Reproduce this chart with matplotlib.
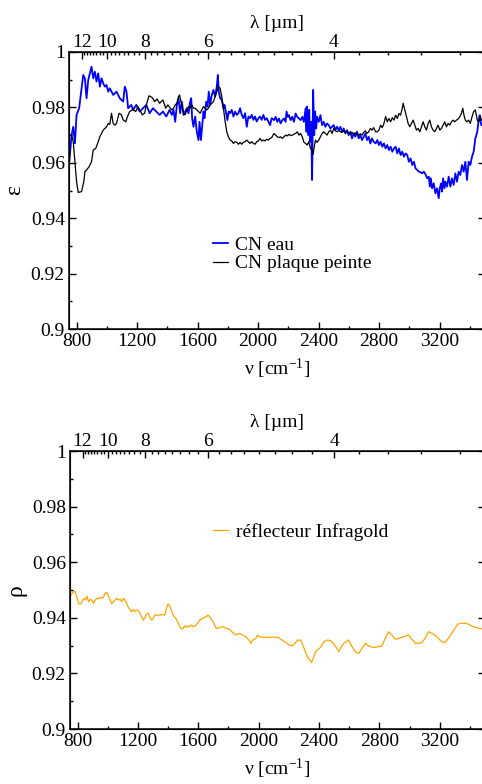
import numpy as np
import matplotlib
matplotlib.use("Agg")
import matplotlib.pyplot as plt

plt.rcParams['font.family'] = ['Liberation Serif', 'DejaVu Serif']
plt.rcParams['mathtext.fontset'] = 'custom'
plt.rcParams['mathtext.rm'] = 'Liberation Serif'
plt.rcParams['mathtext.it'] = 'Liberation Serif:italic'

# emissivity, CN eau (wavenumber in cm-1)
nu_eau = [752, 767, 778, 789, 800, 817, 833, 844, 855, 866, 877, 899, 910, 921, 932, 943,
          954, 965, 976, 987, 998, 1009, 1020, 1042, 1064, 1086, 1108, 1119, 1130, 1141,
          1162, 1173, 1195, 1217, 1239, 1261, 1283, 1305, 1327, 1349, 1371, 1393, 1415,
          1430, 1441, 1452, 1463, 1474, 1485, 1496, 1507, 1518, 1529, 1540, 1551, 1558,
          1564, 1573, 1584, 1595, 1606, 1613, 1622, 1630, 1639, 1646, 1657, 1666, 1674,
          1683, 1694, 1705, 1716, 1727, 1734, 1740, 1749, 1760, 1771, 1778, 1789, 1797,
          1806, 1815, 1826, 1837, 1848, 1859, 1870, 1881, 1892, 1903, 1914, 1925, 1936,
          1947, 1958, 1969, 1980, 1991, 2002, 2013, 2024, 2035, 2046, 2057, 2068, 2079,
          2090, 2105, 2116, 2127, 2138, 2149, 2160, 2171, 2182, 2188, 2197, 2204, 2215,
          2226, 2237, 2248, 2259, 2270, 2281, 2292, 2303, 2314, 2320, 2324, 2331, 2338,
          2344, 2351, 2357, 2364, 2371, 2377, 2384, 2390, 2401, 2412, 2423, 2434, 2445,
          2456, 2467, 2478, 2489, 2500, 2511, 2522, 2533, 2544, 2555, 2566, 2577, 2588,
          2599, 2610, 2621, 2632, 2643, 2654, 2665, 2676, 2687, 2698, 2709, 2720, 2731,
          2742, 2753, 2764, 2777, 2788, 2799, 2810, 2821, 2832, 2843, 2854, 2865, 2876,
          2887, 2898, 2909, 2920, 2931, 2942, 2953, 2964, 2975, 2986, 2997, 3008, 3019,
          3030, 3041, 3052, 3063, 3074, 3085, 3096, 3107, 3118, 3129, 3135, 3142, 3150,
          3161, 3172, 3183, 3194, 3201, 3210, 3216, 3223, 3232, 3238, 3249, 3260, 3271,
          3282, 3293, 3304, 3315, 3326, 3337, 3348, 3359, 3370, 3381, 3392, 3403, 3414,
          3425, 3436, 3443, 3449, 3458, 3465, 3471, 3476, 3500]
eps_eau = [0.9604, 0.9700, 0.9730, 0.9670, 0.9773, 0.9797, 0.9869, 0.9917, 0.9905, 0.9833,
           0.9899, 0.9947, 0.9905, 0.9929, 0.9893, 0.9923, 0.9875, 0.9905, 0.9887, 0.9875,
           0.9881, 0.9857, 0.9869, 0.9845, 0.9857, 0.9833, 0.9821, 0.9875, 0.9857, 0.9797,
           0.9809, 0.9791, 0.9809, 0.9785, 0.9797, 0.9809, 0.9779, 0.9797, 0.9785, 0.9773,
           0.9785, 0.9767, 0.9791, 0.9773, 0.9791, 0.9748, 0.9809, 0.9833, 0.9779, 0.9821,
           0.9773, 0.9785, 0.9797, 0.9779, 0.9821, 0.9833, 0.9760, 0.9730, 0.9767, 0.9712,
           0.9682, 0.9748, 0.9682, 0.9730, 0.9785, 0.9761, 0.9821, 0.9803, 0.9857, 0.9809,
           0.9845, 0.9863, 0.9839, 0.9875, 0.9917, 0.9857, 0.9833, 0.9827, 0.9797, 0.9809,
           0.9779, 0.9754, 0.9785, 0.9779, 0.9791, 0.9767, 0.9785, 0.9773, 0.9779, 0.9797,
           0.9773, 0.9761, 0.9779, 0.9730, 0.9767, 0.9761, 0.9773, 0.9755, 0.9767, 0.9749,
           0.9761, 0.9767, 0.9755, 0.9773, 0.9755, 0.9761, 0.9749, 0.9736, 0.9761, 0.9754,
           0.9766, 0.9748, 0.9760, 0.9742, 0.9754, 0.9760, 0.9748, 0.9785, 0.9766, 0.9772,
           0.9754, 0.9766, 0.9748, 0.9778, 0.9766, 0.9760, 0.9754, 0.9766, 0.9748, 0.9797,
           0.9712, 0.9803, 0.9700, 0.9791, 0.9676, 0.9748, 0.9538, 0.9863, 0.9700, 0.9785,
           0.9724, 0.9766, 0.9748, 0.9772, 0.9736, 0.9748, 0.9730, 0.9742, 0.9736, 0.9724,
           0.9730, 0.9736, 0.9718, 0.9730, 0.9718, 0.9730, 0.9712, 0.9724, 0.9706, 0.9718,
           0.9700, 0.9712, 0.9688, 0.9706, 0.9694, 0.9712, 0.9688, 0.9700, 0.9682, 0.9694,
           0.9706, 0.9682, 0.9694, 0.9670, 0.9688, 0.9676, 0.9670, 0.9682, 0.9664, 0.9676,
           0.9658, 0.9670, 0.9652, 0.9664, 0.9646, 0.9658, 0.9640, 0.9652, 0.9658, 0.9634,
           0.9652, 0.9628, 0.9640, 0.9622, 0.9634, 0.9628, 0.9604, 0.9616, 0.9592, 0.9604,
           0.9580, 0.9574, 0.9568, 0.9566, 0.9562, 0.9568, 0.9558, 0.9544, 0.9550, 0.9514,
           0.9544, 0.9508, 0.9526, 0.9490, 0.9508, 0.9472, 0.9508, 0.9526, 0.9496, 0.9544,
           0.9508, 0.9532, 0.9514, 0.9550, 0.9514, 0.9544, 0.9520, 0.9562, 0.9532, 0.9568,
           0.9556, 0.9592, 0.9568, 0.9604, 0.9538, 0.9604, 0.9592, 0.9622, 0.9640, 0.9688,
           0.9700, 0.9712, 0.9754, 0.9772, 0.9748, 0.9736, 0.9740]

# emissivity, CN plaque peinte
nu_plaque = [752, 767, 778, 789, 800, 811, 833, 848, 855, 866, 883, 899, 910, 927, 943,
             954, 976, 998, 1009, 1020, 1031, 1042, 1053, 1064, 1081, 1097, 1108, 1125,
             1136, 1151, 1173, 1191, 1206, 1217, 1235, 1250, 1261, 1279, 1301, 1316, 1332,
             1349, 1371, 1389, 1404, 1420, 1430, 1441, 1452, 1463, 1474, 1481, 1490, 1496,
             1507, 1518, 1529, 1540, 1551, 1562, 1573, 1584, 1595, 1606, 1617, 1628, 1639,
             1650, 1661, 1672, 1683, 1694, 1705, 1716, 1727, 1738, 1749, 1760, 1771, 1782,
             1793, 1804, 1815, 1826, 1837, 1848, 1859, 1870, 1881, 1892, 1903, 1914, 1925,
             1936, 1947, 1958, 1969, 1980, 1991, 2002, 2013, 2024, 2035, 2046, 2057, 2068,
             2079, 2090, 2105, 2116, 2127, 2138, 2149, 2160, 2171, 2182, 2193, 2204, 2215,
             2226, 2237, 2248, 2259, 2270, 2281, 2292, 2303, 2314, 2324, 2335, 2346, 2357,
             2364, 2373, 2379, 2390, 2401, 2412, 2423, 2434, 2445, 2456, 2467, 2478, 2489,
             2500, 2511, 2522, 2533, 2544, 2555, 2566, 2577, 2588, 2599, 2610, 2621, 2632,
             2643, 2654, 2665, 2676, 2687, 2698, 2709, 2720, 2731, 2742, 2753, 2764, 2777,
             2788, 2799, 2810, 2821, 2832, 2843, 2854, 2865, 2876, 2887, 2898, 2909, 2920,
             2931, 2942, 2953, 2959, 2970, 2981, 2992, 3003, 3014, 3025, 3036, 3047, 3058,
             3069, 3080, 3091, 3102, 3113, 3124, 3135, 3146, 3157, 3168, 3179, 3190, 3201,
             3212, 3223, 3234, 3245, 3256, 3267, 3278, 3289, 3300, 3311, 3322, 3333, 3344,
             3353, 3361, 3370, 3381, 3392, 3403, 3414, 3425, 3436, 3443, 3449, 3458, 3469,
             3476, 3500]
eps_plaque = [0.9700, 0.9700, 0.9676, 0.9604, 0.9532, 0.9493, 0.9496, 0.9532, 0.9568, 0.9574,
              0.9586, 0.9604, 0.9646, 0.9652, 0.9676, 0.9694, 0.9718, 0.9730, 0.9742, 0.9739,
              0.9779, 0.9742, 0.9736, 0.9742, 0.9779, 0.9773, 0.9755, 0.9748, 0.9766, 0.9785,
              0.9793, 0.9785, 0.9803, 0.9791, 0.9773, 0.9779, 0.9809, 0.9842, 0.9835, 0.9821,
              0.9830, 0.9815, 0.9827, 0.9797, 0.9809, 0.9797, 0.9791, 0.9797, 0.9809, 0.9815,
              0.9839, 0.9845, 0.9821, 0.9809, 0.9779, 0.9773, 0.9791, 0.9803, 0.9797, 0.9809,
              0.9797, 0.9797, 0.9791, 0.9785, 0.9779, 0.9791, 0.9803, 0.9797, 0.9791, 0.9797,
              0.9809, 0.9815, 0.9821, 0.9839, 0.9857, 0.9875, 0.9869, 0.9839, 0.9797, 0.9749,
              0.9712, 0.9694, 0.9682, 0.9679, 0.9670, 0.9676, 0.9674, 0.9667, 0.9674, 0.9667,
              0.9674, 0.9676, 0.9682, 0.9676, 0.9670, 0.9676, 0.9670, 0.9667, 0.9676, 0.9679,
              0.9688, 0.9679, 0.9682, 0.9679, 0.9685, 0.9682, 0.9688, 0.9691, 0.9706, 0.9700,
              0.9694, 0.9691, 0.9694, 0.9688, 0.9694, 0.9700, 0.9697, 0.9703, 0.9698, 0.9700,
              0.9703, 0.9706, 0.9712, 0.9700, 0.9706, 0.9694, 0.9674, 0.9670, 0.9664, 0.9676,
              0.9652, 0.9646, 0.9631, 0.9664, 0.9682, 0.9674, 0.9682, 0.9694, 0.9706, 0.9712,
              0.9706, 0.9700, 0.9712, 0.9718, 0.9706, 0.9724, 0.9715, 0.9712, 0.9717, 0.9712,
              0.9710, 0.9715, 0.9710, 0.9712, 0.9708, 0.9705, 0.9710, 0.9703, 0.9708, 0.9703,
              0.9700, 0.9705, 0.9700, 0.9710, 0.9715, 0.9706, 0.9712, 0.9724, 0.9718, 0.9727,
              0.9712, 0.9712, 0.9718, 0.9736, 0.9727, 0.9742, 0.9767, 0.9748, 0.9760, 0.9748,
              0.9763, 0.9754, 0.9772, 0.9760, 0.9778, 0.9772, 0.9797, 0.9815, 0.9791, 0.9766,
              0.9742, 0.9730, 0.9742, 0.9754, 0.9736, 0.9718, 0.9724, 0.9712, 0.9730, 0.9748,
              0.9730, 0.9718, 0.9742, 0.9754, 0.9730, 0.9718, 0.9712, 0.9724, 0.9736, 0.9718,
              0.9724, 0.9736, 0.9748, 0.9730, 0.9742, 0.9736, 0.9748, 0.9754, 0.9748, 0.9754,
              0.9758, 0.9766, 0.9778, 0.9797, 0.9772, 0.9754, 0.9748, 0.9754, 0.9742, 0.9766,
              0.9785, 0.9791, 0.9772, 0.9754, 0.9748, 0.9766, 0.9754, 0.9750]

# reflectance, réflecteur Infragold
nu_gold = [758, 770, 785, 800, 809, 822, 835, 844, 853, 862, 873, 884, 895, 906, 917, 928,
           939, 950, 961, 972, 983, 994, 1005, 1016, 1027, 1038, 1049, 1060, 1071, 1082,
           1093, 1103, 1114, 1126, 1136, 1147, 1158, 1169, 1180, 1191, 1202, 1213, 1224,
           1235, 1246, 1257, 1268, 1279, 1290, 1301, 1312, 1323, 1334, 1345, 1367, 1378,
           1389, 1400, 1411, 1422, 1433, 1455, 1466, 1477, 1488, 1499, 1510, 1521, 1532,
           1543, 1554, 1565, 1587, 1609, 1631, 1642, 1653, 1664, 1675, 1697, 1719, 1741,
           1763, 1785, 1806, 1828, 1850, 1872, 1894, 1916, 1938, 1949, 1960, 1971, 1982,
           1993, 2004, 2026, 2048, 2092, 2125, 2147, 2180, 2202, 2224, 2246, 2257, 2279,
           2301, 2323, 2351, 2378, 2389, 2411, 2433, 2455, 2477, 2499, 2532, 2542, 2564,
           2597, 2619, 2641, 2663, 2685, 2707, 2729, 2751, 2773, 2795, 2817, 2839, 2861,
           2883, 2905, 2927, 2949, 2971, 2993, 3015, 3037, 3059, 3081, 3103, 3125, 3147,
           3169, 3191, 3213, 3235, 3257, 3279, 3301, 3322, 3344, 3366, 3388, 3410, 3432,
           3467, 3500]
rho_gold = [0.9482, 0.9494, 0.9494, 0.9464, 0.9450, 0.9450, 0.9464, 0.9470, 0.9464, 0.9478,
            0.9458, 0.9466, 0.9464, 0.9452, 0.9464, 0.9470, 0.9468, 0.9474, 0.9470, 0.9476,
            0.9488, 0.9491, 0.9478, 0.9464, 0.9450, 0.9458, 0.9464, 0.9470, 0.9464, 0.9467,
            0.9458, 0.9470, 0.9464, 0.9452, 0.9438, 0.9430, 0.9422, 0.9430, 0.9422, 0.9428,
            0.9426, 0.9416, 0.9404, 0.9392, 0.9400, 0.9414, 0.9416, 0.9402, 0.9392, 0.9397,
            0.9410, 0.9409, 0.9409, 0.9411, 0.9411, 0.9410, 0.9434, 0.9450, 0.9443, 0.9428,
            0.9410, 0.9395, 0.9383, 0.9368, 0.9360, 0.9362, 0.9371, 0.9366, 0.9371, 0.9368,
            0.9374, 0.9368, 0.9374, 0.9392, 0.9398, 0.9402, 0.9404, 0.9410, 0.9404, 0.9386,
            0.9362, 0.9364, 0.9368, 0.9362, 0.9359, 0.9347, 0.9338, 0.9344, 0.9338, 0.9332,
            0.9318, 0.9308, 0.9320, 0.9323, 0.9326, 0.9338, 0.9332, 0.9330, 0.9330, 0.9330,
            0.9330, 0.9323, 0.9311, 0.9302, 0.9299, 0.9311, 0.9320, 0.9320, 0.9290, 0.9260,
            0.9239, 0.9278, 0.9284, 0.9294, 0.9314, 0.9320, 0.9318, 0.9306, 0.9278, 0.9290,
            0.9308, 0.9320, 0.9296, 0.9278, 0.9272, 0.9290, 0.9308, 0.9299, 0.9294, 0.9294,
            0.9296, 0.9299, 0.9326, 0.9350, 0.9338, 0.9323, 0.9326, 0.9330, 0.9334, 0.9338,
            0.9323, 0.9308, 0.9308, 0.9311, 0.9326, 0.9350, 0.9344, 0.9338, 0.9326, 0.9314,
            0.9311, 0.9326, 0.9344, 0.9362, 0.9378, 0.9380, 0.9380, 0.9378, 0.9371, 0.9366,
            0.9362, 0.9358]

nu_ticks = [800, 1200, 1600, 2000, 2400, 2800, 3200]
y_ticks = [0.9, 0.92, 0.94, 0.96, 0.98, 1.0]
y_labels = ['0.9', '0.92', '0.94', '0.96', '0.98', '1']
lam_ticks = [12, 10, 8, 6, 4]
lam_minor = [11.75, 11.5, 11.25, 11, 10.75, 10.5, 10.25, 9.75, 9.5, 9.25, 9, 8.75, 8.5,
             8.25, 7.75, 7.5, 7.25, 7, 6.75, 6.5, 6.25, 5.75, 5.5, 5.25, 5, 4.75, 4.5,
             4.25, 3.75, 3.5, 3.25, 3]

FS = 14


def style_panel(ax, ylabel):
    ax.set_xlim(750, 3500)
    ax.set_ylim(0.9, 1.0)
    ax.set_xticks(nu_ticks)
    ax.set_xticklabels([str(v) for v in nu_ticks])
    ax.set_xticks(np.arange(1000, 3500, 400), minor=True)
    ax.set_yticks(y_ticks)
    ax.set_yticklabels(y_labels)
    ax.set_yticks(np.arange(0.91, 1.0, 0.02), minor=True)
    ax.tick_params(which='both', direction='in', right=True, top=False,
                   labelsize=FS, width=1.0, pad=3)
    ax.tick_params(which='major', length=5)
    ax.tick_params(which='minor', length=2.5)
    for s in ax.spines.values():
        s.set_linewidth(1.1)
    ax.set_xlabel(r'ν [cm$^{-1}$]', fontsize=FS, labelpad=5)
    ax.set_ylabel(ylabel, fontsize=17, labelpad=4)

    # wavelength scale on top
    top = ax.twiny()
    top.set_xlim(ax.get_xlim())
    top.set_xticks([1e4 / l for l in lam_ticks])
    top.set_xticklabels([str(l) for l in lam_ticks])
    top.set_xticks([1e4 / l for l in lam_minor], minor=True)
    top.tick_params(which='both', direction='in', labelsize=FS, width=1.0, pad=1)
    top.tick_params(which='major', length=5)
    top.tick_params(which='minor', length=2.5)
    top.set_xlabel('λ [µm]', fontsize=FS, labelpad=4)
    return top


fig = plt.figure(figsize=(4.82, 7.84), dpi=100)
ax1 = fig.add_axes([69 / 482, 1 - 329 / 784, 416 / 482, 277 / 784])
ax2 = fig.add_axes([70 / 482, 1 - 729 / 784, 415 / 482, 278 / 784])

ax1.plot(nu_eau, eps_eau, color='#0000ff', lw=1.3, label='CN eau')
ax1.plot(nu_plaque, eps_plaque, color='black', lw=0.9, label='CN plaque peinte')
style_panel(ax1, 'ε')
ax1.legend(loc='upper left', bbox_to_anchor=(0.346, 0.335), frameon=False, fontsize=FS,
           handlelength=0.75, handletextpad=0.4, labelspacing=0.05, borderpad=0,
           borderaxespad=0)

ax2.plot(nu_gold, rho_gold, color='#ffa500', lw=0.9, label='réflecteur Infragold')
style_panel(ax2, 'ρ')
ax2.legend(loc='upper left', bbox_to_anchor=(0.345, 0.74), frameon=False, fontsize=FS,
           handlelength=0.75, handletextpad=0.4, borderpad=0, borderaxespad=0)

fig.savefig('out.png', dpi=100)
